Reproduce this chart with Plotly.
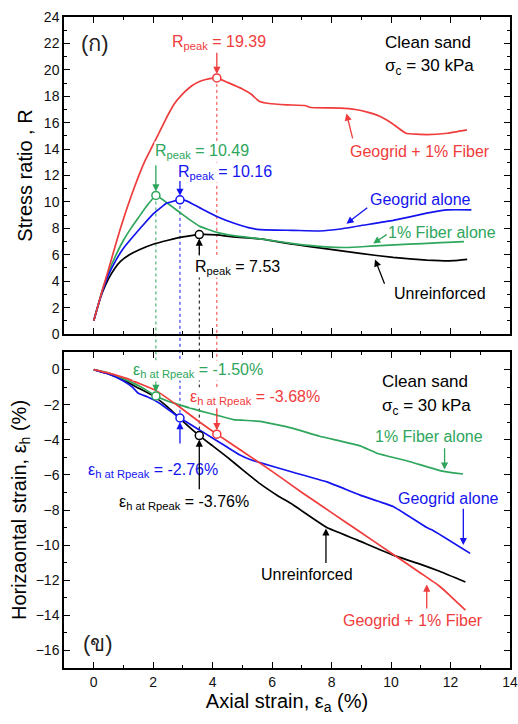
import plotly.graph_objects as go

# ---------------- data ----------------
names = ["Unreinforced", "1% Fiber alone", "Geogrid alone", "Geogrid + 1% Fiber"]

# Top panel: stress ratio R vs axial strain
ea_R_unr = [0, 0.15, 0.3, 0.5, 0.7, 0.9, 1.2, 1.55, 2.0, 2.5, 3.0, 3.55, 4.14, 4.7, 5.6, 6.7, 7.84, 8.96, 10.07, 11.2, 12.1, 12.56]
R_unr = [1, 2.2, 3.2, 4.2, 4.95, 5.5, 6.0, 6.4, 6.8, 7.1, 7.35, 7.53, 7.5, 7.35, 7.2, 6.8, 6.45, 6.1, 5.8, 5.6, 5.55, 5.65]

ea_R_fib = [0, 0.15, 0.3, 0.5, 0.75, 1.0, 1.25, 1.5, 1.75, 2.09, 2.3, 2.6, 2.9, 3.2, 3.57, 4.14, 4.7, 5.6, 6.7, 7.8, 8.5, 9.3, 10.6, 11.5, 12.45]
R_fib = [1, 2.2, 3.4, 4.7, 6.0, 7.1, 8.0, 8.8, 9.6, 10.49, 10.2, 9.7, 9.2, 8.7, 8.15, 7.7, 7.45, 7.2, 6.85, 6.6, 6.55, 6.65, 6.8, 6.9, 7.0]

ea_R_geo = [0, 0.15, 0.3, 0.5, 0.75, 1.0, 1.31, 1.6, 2.0, 2.45, 2.9, 3.1, 3.57, 4.14, 4.7, 5.2, 5.6, 6.7, 7.6, 8.3, 8.96, 10.07, 11.2, 11.9, 12.7]
R_geo = [1, 2.2, 3.3, 4.5, 5.6, 6.5, 7.35, 8.1, 9.1, 9.9, 10.16, 10.1, 9.55, 8.9, 8.4, 8.05, 7.9, 7.85, 7.8, 7.95, 8.2, 8.6, 9.15, 9.4, 9.4]

ea_R_gf = [0, 0.15, 0.3, 0.5, 0.7, 0.9, 1.1, 1.3, 1.5, 1.7, 1.9, 2.1, 2.3, 2.5, 2.7, 3.0, 3.3, 3.6, 3.9, 4.14, 4.5, 5.0, 5.3, 5.55, 5.9, 6.5, 7.1, 7.3, 8.3, 8.8, 9.2, 9.6, 10.0, 10.5, 11.2, 11.9, 12.55]
R_gf = [1, 2.2, 3.4, 4.9, 6.5, 8.0, 9.4, 10.7, 11.9, 13.0, 13.9, 14.8, 15.7, 16.6, 17.4, 18.2, 18.8, 19.15, 19.33, 19.39, 19.05, 18.55, 18.15, 17.65, 17.45, 17.35, 17.3, 17.15, 17.1, 17.0, 16.8, 16.5, 16.0, 15.2, 15.1, 15.2, 15.45]

# Bottom panel: horizontal strain vs axial strain
ea_h_unr = [0, 0.5, 1.0, 1.5, 2.0, 2.5, 3.0, 3.55, 4.0, 4.5, 5.0, 5.59, 6.2, 6.7, 7.3, 7.84, 8.85, 10.07, 11.0, 11.65, 12.5]
eh_unr = [0, -0.25, -0.6, -1.05, -1.5, -2.15, -2.95, -3.76, -4.35, -5.0, -5.7, -6.5, -7.2, -7.7, -8.4, -9.0, -9.7, -10.57, -11.1, -11.5, -12.1]

ea_h_fib = [0, 0.5, 1.1, 1.55, 2.09, 2.67, 3.57, 4.14, 4.7, 5.59, 6.7, 7.6, 8.96, 9.5, 10.64, 11.76, 12.42]
eh_fib = [0, -0.2, -0.6, -0.95, -1.5, -1.9, -2.35, -2.6, -2.85, -2.95, -3.35, -3.8, -4.35, -4.75, -5.25, -5.8, -5.95]

ea_h_geo = [0, 0.5, 1.0, 1.3, 1.5, 1.8, 2.2, 2.9, 3.57, 4.47, 4.9, 5.3, 5.59, 6.7, 7.84, 8.96, 10.07, 11.2, 11.4, 12.66]
eh_geo = [0, -0.25, -0.65, -1.0, -1.35, -1.55, -1.9, -2.76, -3.45, -4.4, -4.85, -5.15, -5.3, -5.85, -6.4, -7.15, -7.8, -9.0, -9.15, -10.47]

ea_h_gf = [0, 0.5, 1.1, 2.1, 2.9, 3.57, 4.14, 5.0, 6.0, 7.0, 8.0, 9.0, 10.0, 11.0, 11.6, 12.0, 12.5]
eh_gf = [0, -0.2, -0.5, -1.2, -2.15, -3.0, -3.68, -4.65, -5.8, -7.0, -8.15, -9.3, -10.45, -11.6, -12.3, -12.9, -13.7]

# Peak values
peak_ea = [3.55, 2.09, 2.9, 4.14]
peak_R = [7.53, 10.49, 10.16, 19.39]
peak_eh = [-3.76, -1.50, -2.76, -3.68]

x_ticks = [0, 2, 4, 6, 8, 10, 12, 14]

# ---------------- styling ----------------
colors = ["#000000", "#2ea65c", "#1414f0", "#f03c3c"]
FONT = "Liberation Sans, Arial, sans-serif"
top_dom = [0.513, 1.0]
bot_dom = [0.0, 0.4854]
top_rng = [0, 24]
bot_rng = [-17, 1]

top_series = [(ea_R_unr, R_unr), (ea_R_fib, R_fib), (ea_R_geo, R_geo), (ea_R_gf, R_gf)]
bot_series = [(ea_h_unr, eh_unr), (ea_h_fib, eh_fib), (ea_h_geo, eh_geo), (ea_h_gf, eh_gf)]

fig = go.Figure()

for i, (xs, ys) in enumerate(top_series):
    fig.add_trace(go.Scatter(x=xs, y=ys, mode="lines", name=names[i],
                             line=dict(color=colors[i], width=1.7, shape="spline", smoothing=0.35),
                             xaxis="x", yaxis="y", showlegend=False))
for i, (xs, ys) in enumerate(bot_series):
    fig.add_trace(go.Scatter(x=xs, y=ys, mode="lines", name=names[i],
                             line=dict(color=colors[i], width=1.7, shape="spline", smoothing=0.35),
                             xaxis="x2", yaxis="y2", showlegend=False))

# dotted connectors from top peak to bottom point
def top_paper(v):
    return top_dom[0] + (v - top_rng[0]) / (top_rng[1] - top_rng[0]) * (top_dom[1] - top_dom[0])

def bot_paper(v):
    return bot_dom[0] + (v - bot_rng[0]) / (bot_rng[1] - bot_rng[0]) * (bot_dom[1] - bot_dom[0])

for i in range(4):
    fig.add_shape(type="line", xref="x", yref="paper",
                  x0=peak_ea[i], x1=peak_ea[i],
                  y0=top_paper(peak_R[i]), y1=bot_paper(peak_eh[i]),
                  line=dict(color=colors[i], width=1, dash="dot"), layer="below")

# peak markers
for i in range(4):
    fig.add_trace(go.Scatter(x=[peak_ea[i]], y=[peak_R[i]], mode="markers", xaxis="x", yaxis="y",
                             marker=dict(symbol="circle", size=8, color="white",
                                         line=dict(color=colors[i], width=1.5)), showlegend=False))
    fig.add_trace(go.Scatter(x=[peak_ea[i]], y=[peak_eh[i]], mode="markers", xaxis="x2", yaxis="y2",
                             marker=dict(symbol="circle", size=8, color="white",
                                         line=dict(color=colors[i], width=1.5)), showlegend=False))

ann = []

def label(text, x, y, color, axis="1", size=16, bg=None, xanchor="center"):
    d = dict(text=text, x=x, y=y, xref="x" if axis == "1" else "x2",
             yref="y" if axis == "1" else "y2", showarrow=False,
             font=dict(family=FONT, size=size, color=color), xanchor=xanchor, yanchor="middle")
    if bg:
        d.update(bgcolor=bg, borderpad=0)
    ann.append(d)

def arrow(x, y, ax, ay, color, axis="1", standoff=0):
    xr = "x" if axis == "1" else "x2"
    yr = "y" if axis == "1" else "y2"
    ann.append(dict(text="", x=x, y=y, ax=ax, ay=ay, xref=xr, yref=yr, axref=xr, ayref=yr,
                    showarrow=True, arrowhead=2, arrowsize=1.1, arrowwidth=1.3,
                    arrowcolor=color, standoff=standoff))

# ----- top panel annotations -----
label("(ก)", 0.05, 22.0, "#222222", size=22)
label("R<sub>peak</sub> = 19.39", 4.2, 22.1, colors[3], bg="white")
arrow(peak_ea[3], peak_R[3], peak_ea[3], 21.4, colors[3], standoff=4)
label("R<sub>peak</sub> = 10.49", 3.64, 13.8, colors[1], bg="white")
arrow(peak_ea[1], peak_R[1], peak_ea[1], 12.9, colors[1], standoff=4)
label("R<sub>peak</sub> = 10.16", 4.41, 12.2, colors[2], bg="white")
arrow(peak_ea[2], peak_R[2], peak_ea[2], 11.7, colors[2], standoff=4)
label("R<sub>peak</sub> = 7.53", 4.85, 5.0, colors[0], bg="white")
arrow(peak_ea[0], peak_R[0], peak_ea[0], 5.9, colors[0], standoff=4)
label("Clean sand", 9.73, 22.1, "#000000", size=17, xanchor="left")
label("σ<sub>c</sub> = 30 kPa", 9.73, 20.2, "#000000", size=17, xanchor="left")
label("Geogrid + 1% Fiber", 10.98, 13.8, colors[3])
arrow(8.5, 16.7, 8.72, 14.7, colors[3])
label("Geogrid alone", 11.0, 10.2, colors[2])
arrow(8.5, 8.35, 9.25, 9.65, colors[2])
label("1% Fiber alone", 11.72, 7.7, colors[1])
arrow(9.4, 6.85, 9.9, 7.6, colors[1])
label("Unreinforced", 11.65, 3.1, colors[0])
arrow(9.46, 5.65, 9.8, 3.7, colors[0])

# ----- bottom panel annotations -----
label("(ข)", 0.15, -15.6, "#222222", axis="2", size=22)
label("ε<sub>h at Rpeak</sub> = -1.50%", 3.5, -0.06, colors[1], axis="2", bg="white")
arrow(peak_ea[1], peak_eh[1], peak_ea[1], -0.75, colors[1], axis="2", standoff=4)
label("ε<sub>h at Rpeak</sub> = -3.68%", 5.42, -1.6, colors[3], axis="2", bg="white")
arrow(peak_ea[3], peak_eh[3], peak_ea[3], -2.2, colors[3], axis="2", standoff=4)
label("ε<sub>h at Rpeak</sub> = -2.76%", 1.99, -5.74, colors[2], axis="2", bg="white")
arrow(peak_ea[2], peak_eh[2], peak_ea[2], -4.3, colors[2], axis="2", standoff=4)
label("ε<sub>h at Rpeak</sub> = -3.76%", 3.03, -7.6, colors[0], axis="2", bg="white")
arrow(peak_ea[0], peak_eh[0], peak_ea[0], -6.9, colors[0], axis="2", standoff=4)
label("Clean sand", 9.63, -0.7, "#000000", axis="2", size=17, xanchor="left")
label("σ<sub>c</sub> = 30 kPa", 9.63, -2.15, "#000000", axis="2", size=17, xanchor="left")
label("1% Fiber alone", 11.28, -3.8, colors[1], axis="2")
arrow(11.8, -5.7, 11.8, -4.4, colors[1], axis="2")
label("Geogrid alone", 11.92, -7.33, colors[2], axis="2")
arrow(12.43, -10.0, 12.43, -7.85, colors[2], axis="2")
label("Unreinforced", 7.17, -11.65, colors[0], axis="2")
arrow(7.81, -9.05, 7.81, -11.1, colors[0], axis="2")
label("Geogrid + 1% Fiber", 10.74, -14.3, colors[3], axis="2")
arrow(11.2, -12.25, 11.2, -13.7, colors[3], axis="2")

axis_common = dict(showline=True, linecolor="black", linewidth=1.5, mirror="ticks",
                   ticks="inside", ticklen=6, tickwidth=1.3, tickcolor="black",
                   showgrid=False, zeroline=False, automargin=False,
                   tickfont=dict(family=FONT, size=14, color="#111111"),
                   minor=dict(ticks="inside", ticklen=3.5, tickwidth=1.1, tickcolor="black", dtick=1, showgrid=False))

fig.update_layout(
    width=518, height=724,
    margin=dict(l=64, r=8, t=17, b=56),
    paper_bgcolor="white", plot_bgcolor="white",
    font=dict(family=FONT, color="black"),
    annotations=ann,
    xaxis=dict(axis_common, domain=[0, 1], anchor="y", range=[-1, 14],
               tickvals=x_ticks, showticklabels=False),
    yaxis=dict(axis_common, domain=top_dom, anchor="x", range=top_rng, dtick=2, tick0=0,
               title=dict(text="Stress ratio , R", font=dict(family=FONT, size=20), standoff=6)),
    xaxis2=dict(axis_common, domain=[0, 1], anchor="y2", range=[-1, 14],
                tickvals=x_ticks, ticktext=[str(v) for v in x_ticks],
                title=dict(text="Axial strain, ε<sub>a</sub> (%)", font=dict(family=FONT, size=20), standoff=4)),
    yaxis2=dict(axis_common, domain=bot_dom, anchor="x2", range=bot_rng, dtick=2, tick0=0,
                title=dict(text="Horizaontal strain, ε<sub>h</sub> (%)", font=dict(family=FONT, size=20), standoff=4)),
)

fig.write_html("out.html", config={"displayModeBar": False},
               post_script="document.body.style.margin='0';document.body.style.overflow='hidden';")
